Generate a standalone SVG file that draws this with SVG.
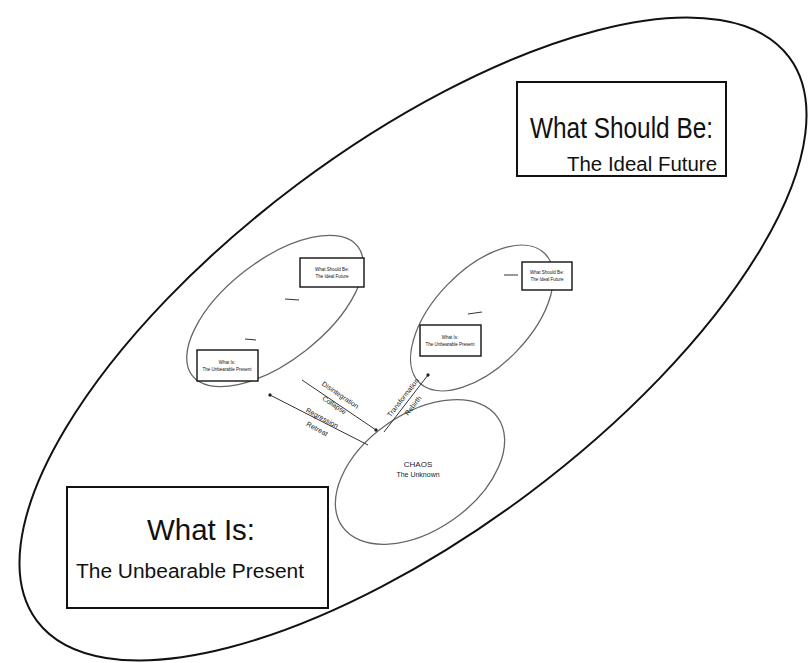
<svg xmlns="http://www.w3.org/2000/svg" width="812" height="663" viewBox="0 0 812 663">
<defs>
<style>
text{font-family:"Liberation Sans",Arial,sans-serif;fill:#111}
.big{font-size:29px}
.sub{font-size:20px}
.tiny{font-size:4.5px;text-anchor:middle}
.lbl{font-size:7px;text-anchor:middle;fill:#222}
.box{fill:#fff;stroke:#111;stroke-width:2}
.sbox{fill:#fff;stroke:#111;stroke-width:1.4}
.ell{fill:none;stroke:#666;stroke-width:1.3}
.conn{stroke:#333;stroke-width:1;fill:none}
</style>
<marker id="dot" viewBox="0 0 6 6" refX="3" refY="3" markerWidth="4" markerHeight="4"><circle cx="3" cy="3" r="2.5" fill="#222"/></marker>
</defs>
<rect width="812" height="663" fill="#fff"/>
<g id="outer">
<ellipse cx="413" cy="339" rx="470" ry="193" transform="rotate(-36.85 413 339)" fill="none" stroke="#111" stroke-width="2"/>
</g>
<g id="what-should-be">
<rect class="box" x="517" y="82" width="209" height="94"/>
<text class="big" x="530" y="138" textLength="183" lengthAdjust="spacingAndGlyphs">What Should Be:</text>
<text class="sub" x="567" y="171" textLength="150" lengthAdjust="spacingAndGlyphs">The Ideal Future</text>
</g>
<g id="what-is">
<rect class="box" x="67" y="487" width="261" height="121"/>
<text class="big" x="147" y="540" textLength="108" lengthAdjust="spacingAndGlyphs">What Is:</text>
<text class="sub" x="76" y="578" textLength="228" lengthAdjust="spacingAndGlyphs">The Unbearable Present</text>
</g>
<g id="left-cycle">
<ellipse class="ell" cx="275" cy="311" rx="105" ry="50" transform="rotate(-38 275 311)"/>
<rect class="sbox" x="300" y="258" width="64" height="29"/>
<text class="tiny" x="332" y="271">What Should Be:</text>
<text class="tiny" x="332" y="278">The Ideal Future</text>
<rect class="sbox" x="197" y="350" width="61" height="31"/>
<text class="tiny" x="227" y="364">What Is:</text>
<text class="tiny" x="227" y="371">The Unbearable Present</text>
<line class="conn" x1="285" y1="299" x2="299" y2="300"/>
<line class="conn" x1="245" y1="339" x2="256" y2="340"/>
</g>
<g id="right-cycle">
<ellipse class="ell" cx="482" cy="318" rx="90" ry="48" transform="rotate(-46 482 318)"/>
<rect class="sbox" x="522" y="262" width="50" height="28"/>
<text class="tiny" x="547" y="274">What Should Be:</text>
<text class="tiny" x="547" y="281">The Ideal Future</text>
<rect class="sbox" x="420" y="325" width="61" height="31"/>
<text class="tiny" x="450" y="339">What Is:</text>
<text class="tiny" x="450" y="346">The Unbearable Present</text>
<line class="conn" x1="504" y1="275" x2="518" y2="275"/>
<line class="conn" x1="468" y1="314" x2="482" y2="312"/>
</g>
<g id="chaos">
<ellipse class="ell" cx="420" cy="472" rx="95" ry="58" transform="rotate(-35 420 472)"/>
<text class="lbl" x="418" y="467" style="font-size:8px">CHAOS</text>
<text class="lbl" x="418" y="477">The Unknown</text>
</g>
<g id="connectors">
<line class="conn" x1="302" y1="380" x2="376" y2="430" marker-end="url(#dot)"/>
<line class="conn" x1="368" y1="445" x2="270" y2="395" marker-end="url(#dot)"/>
<line class="conn" x1="384" y1="432" x2="428" y2="375" marker-end="url(#dot)"/>
<text class="lbl" transform="translate(339 397) rotate(34)">Disintegration</text>
<text class="lbl" transform="translate(333 407) rotate(34)">Collapse</text>
<text class="lbl" transform="translate(321 420) rotate(28)">Regression</text>
<text class="lbl" transform="translate(316 431) rotate(28)">Retreat</text>
<text class="lbl" transform="translate(405 399) rotate(-52)">Transformation</text>
<text class="lbl" transform="translate(415 407) rotate(-52)">Rebirth</text>
</g>
</svg>
